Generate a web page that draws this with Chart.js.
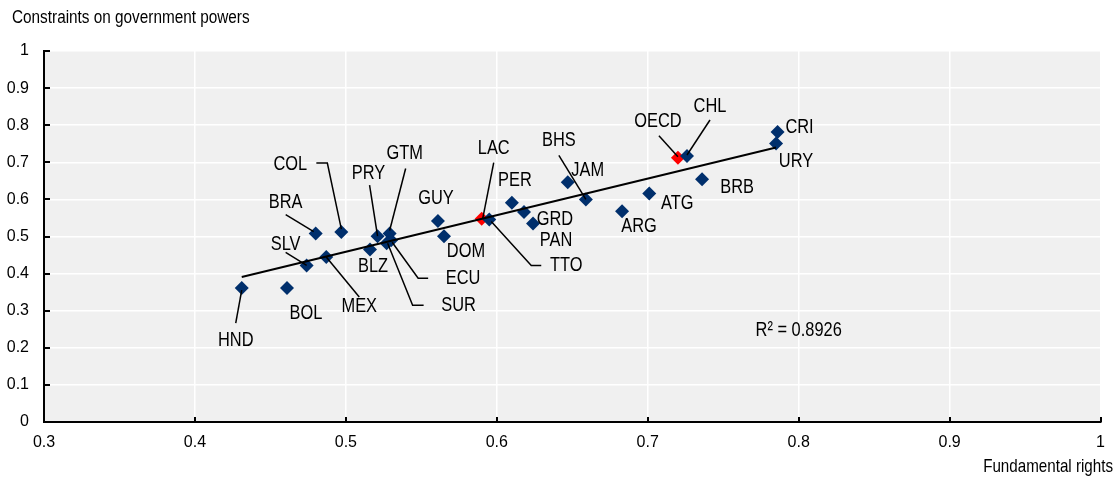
<!DOCTYPE html>
<html>
<head>
<meta charset="utf-8">
<script src="https://cdn.jsdelivr.net/npm/chart.js@4.4.0/dist/chart.umd.min.js"></script>
<style>
  html, body { margin: 0; padding: 0; background: #fff; }
  #wrap { width: 1116px; height: 480px; }
</style>
</head>
<body>
<div id="wrap"><canvas id="chart" width="1116" height="480"></canvas></div>
<script>
// country scores
const countries = ['HND', 'BOL', 'SLV', 'MEX', 'BRA', 'COL', 'BLZ', 'PRY', 'GTM', 'ECU', 'SUR', 'GUY', 'DOM',
    'TTO', 'PER', 'GRD', 'PAN', 'JAM', 'BHS', 'ARG', 'ATG', 'CHL', 'BRB', 'CRI', 'URY'];
const fundamentalRights = [0.431, 0.461, 0.474, 0.487, 0.480, 0.497, 0.516, 0.521, 0.529, 0.530, 0.527, 0.561, 0.565,
    0.595, 0.610, 0.618, 0.624, 0.647, 0.659, 0.683, 0.701, 0.726, 0.736, 0.786, 0.785];
const govConstraints = [0.361, 0.361, 0.422, 0.445, 0.508, 0.512, 0.465, 0.501, 0.508, 0.490, 0.482, 0.542, 0.501,
    0.546, 0.591, 0.566, 0.535, 0.646, 0.600, 0.568, 0.616, 0.717, 0.654, 0.782, 0.751];

// regional averages
const benchNames = ['LAC', 'OECD'];
const benchRights = [0.590, 0.720];
const benchConstraints = [0.548, 0.712];

// trend line end points
const trendRights = [0.431, 0.785];
const trendConstraints = [0.391, 0.740];
const rSquared = '0.8926';

const xTicks = [0.3, 0.4, 0.5, 0.6, 0.7, 0.8, 0.9, 1];
const yTicks = [0, 0.1, 0.2, 0.3, 0.4, 0.5, 0.6, 0.7, 0.8, 0.9, 1];

// label placement, pixel offsets from the marker
const labelLayout = {
    HND: { dx: -6, dy: 52, leader: [[-6, 35], [0, 2]] },
    BOL: { dx: 19, dy: 25 },
    SLV: { dx: -21, dy: -21, leader: [[-21, -13], [0, 0]] },
    MEX: { dx: 33, dy: 50, leader: [[33, 40], [0, 0]] },
    BRA: { dx: -30, dy: -31, leader: [[-30, -19], [-2, -2]] },
    COL: { dx: -51, dy: -68, leader: [[-25, -69], [-14, -69], [0, -3]] },
    BLZ: { dx: 3, dy: 17 },
    PRY: { dx: -9, dy: -63, leader: [[-8, -51], [0, 0]] },
    GTM: { dx: 15, dy: -80, leader: [[16, -65], [0, -3]] },
    ECU: { dx: 72, dy: 38, leader: [[37, 38], [27, 38], [1, 2]] },
    SUR: { dx: 72, dy: 62, leader: [[37, 62], [26, 62], [1, 0]] },
    GUY: { dx: -2, dy: -22 },
    DOM: { dx: 22, dy: 15 },
    LAC: { dx: 12, dy: -70, leader: [[12, -56], [1, 0]] },
    TTO: { dx: 77, dy: 46, leader: [[52, 46], [42, 46], [2, 2]] },
    PER: { dx: 3, dy: -22 },
    GRD: { dx: 31, dy: 7 },
    PAN: { dx: 23, dy: 17 },
    JAM: { dx: 20, dy: -12 },
    BHS: { dx: -27, dy: -59, leader: [[-27, -44], [0, 0]] },
    ARG: { dx: 17, dy: 15 },
    ATG: { dx: 28, dy: 10 },
    OECD: { dx: -20, dy: -36, leader: [[-19, -22], [0, -1]] },
    CHL: { dx: 23, dy: -50, leader: [[23, -36], [0, -1]] },
    BRB: { dx: 35, dy: 8 },
    CRI: { dx: 22, dy: -4 },
    URY: { dx: 20, dy: 18 }
};

// the original uses a narrow sans; squeeze a regular one if no narrow face is installed
function fontAvailable(name) {
    const c = document.createElement('canvas').getContext('2d');
    c.font = '40px monospace';
    const a = c.measureText('HND 0.9 abcdefg').width;
    c.font = '40px "' + name + '", monospace';
    const b = c.measureText('HND 0.9 abcdefg').width;
    return a !== b;
}
const hasNarrow = fontAvailable('Liberation Sans Narrow');
const family = hasNarrow ? '"Liberation Sans Narrow", "Liberation Sans", Arial, sans-serif' : '"Liberation Sans", Arial, sans-serif';
const squeeze = hasNarrow ? 1 : 0.82;

function drawText(ctx, text, x, y, size, align) {
    ctx.save();
    ctx.font = size + 'px ' + family;
    ctx.textAlign = align || 'center';
    ctx.textBaseline = 'middle';
    ctx.fillStyle = '#000';
    ctx.translate(x, y);
    ctx.scale(squeeze, 1);
    ctx.fillText(text, 0, 0);
    ctx.restore();
}

const NAVY = '#002F6C';
const RED = '#FF0000';

const chartDecor = {
    id: 'chartDecor',
    beforeDraw(chart) {
        const { ctx, chartArea: a } = chart;
        ctx.save();
        ctx.fillStyle = '#fff';
        ctx.fillRect(0, 0, chart.width, chart.height);
        ctx.fillStyle = '#F0F0F0';
        ctx.fillRect(a.left, a.top, a.right - a.left, a.bottom - a.top);
        ctx.restore();
    },
    afterDatasetsDraw(chart) {
        const { ctx, scales: { x, y }, chartArea: a } = chart;

        // inward tick marks
        ctx.save();
        ctx.strokeStyle = '#000';
        ctx.lineWidth = 2;
        ctx.beginPath();
        yTicks.forEach(v => {
            const py = Math.round(y.getPixelForValue(v));
            ctx.moveTo(a.left, py);
            ctx.lineTo(a.left + 6, py);
        });
        xTicks.forEach(v => {
            const px = Math.round(x.getPixelForValue(v));
            ctx.moveTo(px, a.bottom);
            ctx.lineTo(px, a.bottom - 5);
        });
        ctx.stroke();
        ctx.restore();

        // labels and leader lines
        [1, 2].forEach(di => {
            const names = chart.data.datasets[di].names;
            chart.getDatasetMeta(di).data.forEach((el, i) => {
                const lay = labelLayout[names[i]];
                if (!lay) return;
                if (lay.leader) {
                    ctx.save();
                    ctx.strokeStyle = '#000';
                    ctx.lineWidth = 1.5;
                    ctx.beginPath();
                    lay.leader.forEach((p, k) => {
                        if (k === 0) ctx.moveTo(el.x + p[0], el.y + p[1]);
                        else ctx.lineTo(el.x + p[0], el.y + p[1]);
                    });
                    ctx.stroke();
                    ctx.restore();
                }
                drawText(ctx, names[i], el.x + lay.dx, el.y + lay.dy, 20);
            });
        });

        drawText(ctx, 'R² = ' + rSquared, x.getPixelForValue(0.8), y.getPixelForValue(0.247), 20);
    },
    afterDraw(chart) {
        const { ctx } = chart;
        drawText(ctx, 'Constraints on government powers', 12, 18, 18.7, 'left');
        drawText(ctx, 'Fundamental rights', 1113, 467, 18.5, 'right');
    }
};

const tickFont = hasNarrow ? { family: family, size: 19 } : { family: family, size: 16 };

new Chart(document.getElementById('chart'), {
    type: 'scatter',
    data: {
        datasets: [
            {
                type: 'line',
                data: trendRights.map((v, i) => ({ x: v, y: trendConstraints[i] })),
                borderColor: '#000',
                borderWidth: 2,
                pointRadius: 0,
                fill: false,
                order: 0
            },
            {
                names: countries,
                data: fundamentalRights.map((v, i) => ({ x: v, y: govConstraints[i] })),
                pointStyle: 'rectRot',
                pointRadius: 7,
                pointBorderWidth: 0,
                backgroundColor: NAVY,
                borderColor: NAVY,
                order: 1
            },
            {
                names: benchNames,
                data: benchRights.map((v, i) => ({ x: v, y: benchConstraints[i] })),
                pointStyle: 'rectRot',
                pointRadius: 7,
                pointBorderWidth: 0,
                backgroundColor: RED,
                borderColor: RED,
                order: 2
            }
        ]
    },
    options: {
        responsive: false,
        animation: false,
        devicePixelRatio: 1,
        layout: { padding: { top: 51, right: 14, left: 0, bottom: 0 } },
        plugins: { legend: { display: false }, tooltip: { enabled: false } },
        scales: {
            x: {
                type: 'linear',
                min: 0.3,
                max: 1,
                afterBuildTicks: s => { s.ticks = xTicks.map(v => ({ value: v })); },
                afterFit: s => { s.height = 58; },
                ticks: {
                    padding: 11,
                    color: '#000',
                    font: tickFont,
                    maxRotation: 0,
                    callback: v => String(+v.toFixed(1))
                },
                grid: { color: '#fff', lineWidth: 1.5, drawTicks: false },
                border: { color: '#000', width: 2 }
            },
            y: {
                type: 'linear',
                min: 0,
                max: 1,
                afterBuildTicks: s => { s.ticks = yTicks.map(v => ({ value: v })); },
                afterFit: s => { s.width = 44; },
                ticks: {
                    padding: 15,
                    color: '#000',
                    font: tickFont,
                    callback: v => String(+v.toFixed(1))
                },
                grid: { color: '#fff', lineWidth: 1.5, drawTicks: false },
                border: { color: '#000', width: 2 }
            }
        }
    },
    plugins: [chartDecor]
});
</script>
</body>
</html>
